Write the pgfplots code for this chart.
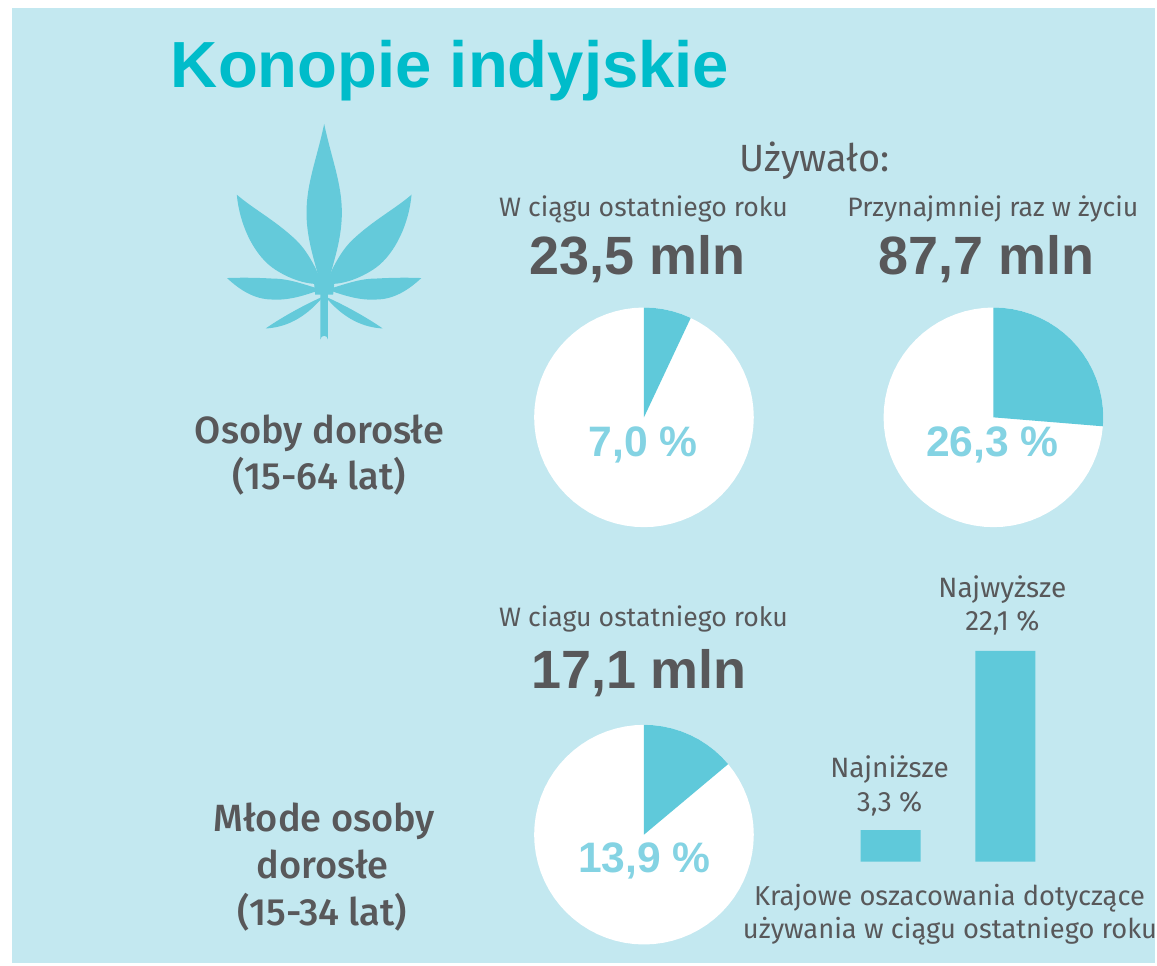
\documentclass[border=0pt]{standalone}
\usepackage{pgfplots}
\usepackage{pgfplotstable}
\usepackage{fontspec}
\usepgfplotslibrary{polar}
\pgfplotsset{compat=1.18}
\setmainfont{Fira Sans}
\newfontfamily\med{Fira Sans Medium}
\newfontfamily\lib{Liberation Sans}
\definecolor{bg}{HTML}{C3E8F0}
\definecolor{teal}{HTML}{00BCCA}
\definecolor{fillc}{HTML}{5FC9DA}
\definecolor{leafc}{HTML}{64CADA}
\definecolor{pct}{HTML}{84D3E3}
\definecolor{txt}{HTML}{58585A}
\pgfplotstableread{
t r
0 1
5 1
10 1
15 1
20 1
25 1
30 1
35 1
40 1
45 1
50 1
55 1
60 1
65 1
70 1
75 1
80 1
85 1
90 1
95 1
100 1
105 1
110 1
115 1
120 1
125 1
130 1
135 1
140 1
145 1
150 1
155 1
160 1
165 1
170 1
175 1
180 1
185 1
190 1
195 1
200 1
205 1
210 1
215 1
220 1
225 1
230 1
235 1
240 1
245 1
250 1
255 1
260 1
265 1
270 1
275 1
280 1
285 1
290 1
295 1
300 1
305 1
310 1
315 1
320 1
325 1
330 1
335 1
340 1
345 1
350 1
355 1
360 1
}\disk
\newcommand{\PP}[2]{({#1*0.75pt},{-#2*0.75pt})}
\newcommand{\T}[4]{\node[anchor=base,inner sep=0pt,text=txt] at \PP{#1}{#2} {\fontsize{#3}{#3}\selectfont #4};}
\pgfplotsset{pie/.style={width=165pt,height=165pt,scale only axis,anchor=center,
  axis lines=none,xmin=0,xmax=360,ymin=0,ymax=1,clip=false,xtick=\empty,ytick=\empty}}
\begin{document}
\begin{tikzpicture}
\fill[white] \PP{0}{0} rectangle \PP{1157}{967};
\fill[bg] \PP{12}{8} rectangle \PP{1157}{965};
% title
\node[anchor=base west,inner sep=0pt,text=teal] at \PP{171}{88} {\fontsize{49}{49}\selectfont\lib\bfseries Konopie indyjskie};
% leaf
\begin{scope}[x=0.75pt,y=-0.75pt,shift={(324.7,288)}]
\fill[leafc] (0,-164) .. controls (7,-130) and (17.7,-105) .. (17.7,-75) .. controls (17.7,-45) and (7,-20) .. (2,4)
  -- (-2,4) .. controls (-7,-20) and (-17.7,-45) .. (-17.7,-75) .. controls (-17.7,-105) and (-7,-130) .. (0,-164) -- cycle;
\fill[leafc] (-10,-3) -- (0,-14) -- (10,-3) -- (9,7) -- (-9,7) -- cycle;
\fill[leafc] (-3.7,0) -- (3.7,0) -- (3.7,52) arc (0:-180:3.7) -- cycle;
\foreach \s in {1,-1}{
\begin{scope}[xscale=\s]
\fill[leafc] (2,-4) .. controls (10,-25) and (20,-40) .. (28.6,-48) .. controls (50,-68) and (70,-78) .. (87.5,-93) .. controls (85,-65) and (72,-35) .. (52,-20) .. controls (35,-8) and (15,-2) .. (2,-4) -- cycle;
\fill[leafc] (3,2) .. controls (20,-3) and (35,-9) .. (52,-9) .. controls (70,-10) and (85,-10) .. (97.3,-9.5) .. controls (85,2) and (70,12) .. (52,12) .. controls (35,13) and (20,8) .. (3,2) -- cycle;
\fill[leafc] (1,9) .. controls (15,15) and (40,28) .. (58.6,41) .. controls (40,40) and (20,32) .. (1,9) -- cycle;
\end{scope}}
\end{scope}
% pie 1
\begin{polaraxis}[pie,at={({645*0.75pt},{-418*0.75pt})}]
\addplot[fill=white,draw=none] table[x=t,y=r]{\disk};
\addplot[fill=fillc,draw=none] coordinates {(0,0) (90,1) (85,1) (80,1) (75,1) (70,1) (65,1) (64.8,1)};
\end{polaraxis}
% pie 2
\begin{polaraxis}[pie,at={({995*0.75pt},{-418*0.75pt})}]
\addplot[fill=white,draw=none] table[x=t,y=r]{\disk};
\addplot[fill=fillc,draw=none] coordinates {(0,0) (90,1) (85,1) (80,1) (75,1) (70,1) (65,1) (60,1) (55,1) (50,1) (45,1) (40,1) (35,1) (30,1) (25,1) (20,1) (15,1) (10,1) (5,1) (0,1) (-4.68,1)};
\end{polaraxis}
% pie 3
\begin{polaraxis}[pie,at={({645*0.75pt},{-836*0.75pt})}]
\addplot[fill=white,draw=none] table[x=t,y=r]{\disk};
\addplot[fill=fillc,draw=none] coordinates {(0,0) (90,1) (85,1) (80,1) (75,1) (70,1) (65,1) (60,1) (55,1) (50,1) (45,1) (39.96,1)};
\end{polaraxis}
% bars
\begin{axis}[at={({852*0.75pt},{-863*0.75pt})},anchor=south west,width=146.25pt,height=179pt,scale only axis,
  axis lines=none,ybar,bar width=45pt,xmin=-0.348,xmax=1.348,ymin=0,ymax=25,clip=false,xtick=\empty,ytick=\empty]
\addplot[fill=fillc,draw=none] coordinates {(0,3.3) (1,22.1)};
\end{axis}
% texts
\T{816}{172}{28.5}{Używało:}
\T{644.5}{217}{20}{W ciągu ostatniego roku}
\T{994.5}{217}{20}{Przynajmniej raz w życiu}
\T{638.5}{275}{40.5}{\lib\bfseries 23,5 mln}
\T{988}{275}{40.5}{\lib\bfseries 87,7 mln}
\node[anchor=base,inner sep=0pt,text=pct] at \PP{644}{457} {\fontsize{32}{32}\selectfont\lib\bfseries 7,0 \%};
\node[anchor=base,inner sep=0pt,text=pct] at \PP{994}{457} {\fontsize{32}{32}\selectfont\lib\bfseries 26,3 \%};
\node[anchor=base,inner sep=0pt,text=pct] at \PP{645.5}{874} {\fontsize{32}{32}\selectfont\lib\bfseries 13,9 \%};
\T{320}{444}{28.5}{\med Osoby dorosłe}
\T{320}{490}{28.5}{\med (15-64 lat)}
\T{644.5}{628}{20}{W ciagu ostatniego roku}
\T{640}{690}{40.5}{\lib\bfseries 17,1 mln}
\T{325}{833}{28.5}{\med Młode osoby}
\T{323}{880}{28.5}{\med dorosłe}
\T{323}{927}{28.5}{\med (15-34 lat)}
\T{1004}{598}{21}{Najwyższe}
\T{1004}{632}{21}{22,1 \%}
\T{891}{779}{21}{Najniższe}
\T{891}{813}{21}{3,3 \%}
\T{951}{907}{20.5}{Krajowe oszacowania dotyczące}
\T{951.5}{940}{20.5}{używania w ciągu ostatniego roku}
\end{tikzpicture}
\end{document}
